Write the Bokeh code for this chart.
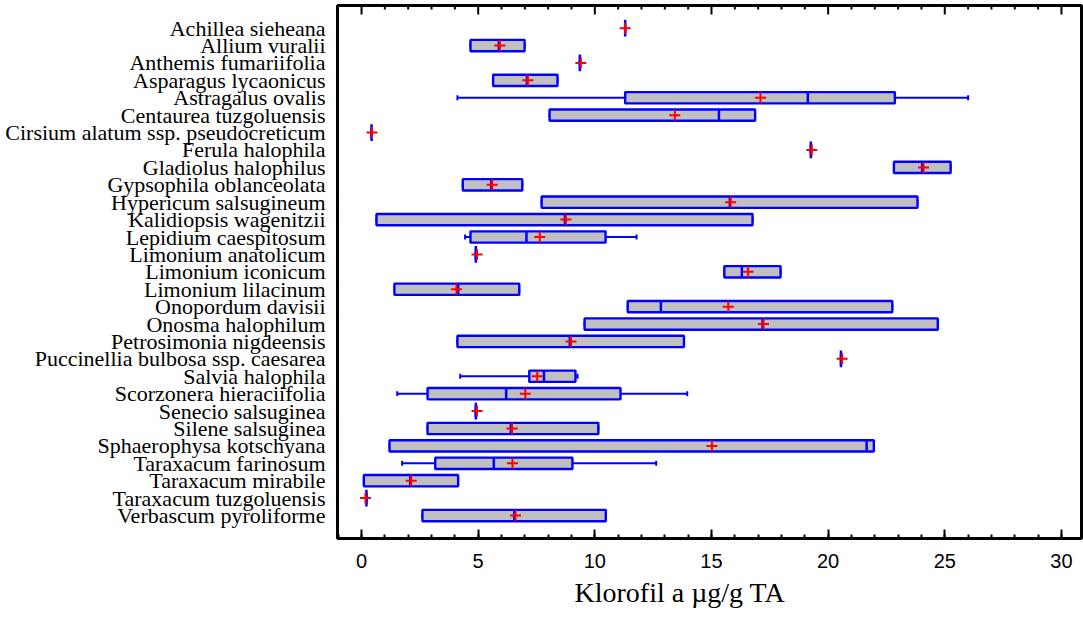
from bokeh.plotting import figure
from bokeh.models import Range1d, FixedTicker, ColumnDataSource, SingleIntervalTicker, Title
from bokeh.embed import file_html
from bokeh.resources import INLINE

species = ["Achillea sieheana", "Allium vuralii", "Anthemis fumariifolia", "Asparagus lycaonicus",
           "Astragalus ovalis", "Centaurea tuzgoluensis", "Cirsium alatum ssp. pseudocreticum",
           "Ferula halophila", "Gladiolus halophilus", "Gypsophila oblanceolata", "Hypericum salsugineum",
           "Kalidiopsis wagenitzii", "Lepidium caespitosum", "Limonium anatolicum", "Limonium iconicum",
           "Limonium lilacinum", "Onopordum davisii", "Onosma halophilum", "Petrosimonia nigdeensis",
           "Puccinellia bulbosa ssp. caesarea", "Salvia halophila", "Scorzonera hieraciifolia",
           "Senecio salsuginea", "Silene salsuginea", "Sphaerophysa kotschyana", "Taraxacum farinosum",
           "Taraxacum mirabile", "Taraxacum tuzgoluensis", "Verbascum pyroliforme"]
whisker_low = [11.30, 4.67, 9.36, 5.64, 4.11, 8.06, 0.43, 19.26, 22.82, 4.34, 7.72, 0.64, 4.44, 4.90, 15.55,
               1.41, 11.41, 9.56, 4.11, 20.55, 4.23, 1.53, 4.90, 2.83, 1.20, 1.74, 0.10, 0.21, 2.61]
q1 = [11.30, 4.67, 9.36, 5.64, 11.30, 8.06, 0.43, 19.26, 22.82, 4.34, 7.72, 0.64, 4.67, 4.90, 15.55,
      1.41, 11.41, 9.56, 4.11, 20.55, 7.19, 2.83, 4.90, 2.83, 1.20, 3.16, 0.10, 0.21, 2.61]
median = [11.30, 5.89, 9.36, 7.09, 19.13, 15.32, 0.43, 19.26, 24.03, 5.56, 15.79, 8.72, 7.07, 4.90, 16.30,
          4.14, 12.83, 17.19, 8.93, 20.55, 7.82, 6.20, 4.90, 6.40, 21.65, 5.67, 2.09, 0.21, 6.55]
q3 = [11.30, 6.99, 9.36, 8.40, 22.86, 16.87, 0.43, 19.26, 25.25, 6.89, 23.83, 16.76, 10.46, 4.90, 17.96,
      6.76, 22.75, 24.70, 13.82, 20.55, 9.17, 11.10, 4.90, 10.15, 21.96, 9.04, 4.14, 0.21, 10.47]
whisker_high = [11.30, 6.99, 9.36, 8.40, 26.00, 16.87, 0.43, 19.26, 25.25, 6.89, 23.83, 16.76, 11.79, 4.90, 17.96,
                6.76, 22.75, 24.70, 13.82, 20.55, 9.26, 13.96, 4.90, 10.15, 21.96, 12.63, 4.14, 0.21, 10.47]
mean = [11.30, 5.93, 9.40, 7.13, 17.10, 13.43, 0.45, 19.30, 24.09, 5.60, 15.82, 8.76, 7.64, 4.95, 16.57,
        4.07, 15.72, 17.23, 8.98, 20.60, 7.53, 7.02, 4.95, 6.45, 15.02, 6.47, 2.13, 0.17, 6.60]
x_major_ticks = [0, 5, 10, 15, 20, 25, 30]
x_minor_ticks = [v for v in range(0, 31) if v % 5 != 0]
x_title = "Klorofil a µg/g TA"

n = len(species)
ypos = [n - i for i in range(n)]
half_box = 0.325
med_half = [0.48 if abs(b - a) < 1e-9 else half_box for a, b in zip(q1, q3)]

src = ColumnDataSource(dict(
    y=ypos, lo=whisker_low, q1=q1, med=median, q3=q3, hi=whisker_high, mean=mean,
    yb=[v - half_box for v in ypos], yt=[v + half_box for v in ypos],
    mb=[v - h for v, h in zip(ypos, med_half)], mt=[v + h for v, h in zip(ypos, med_half)],
    cb=[v - 0.14 for v in ypos], ct=[v + 0.14 for v in ypos],
))

y_lo, y_hi = -0.32, 30.3
frame_h = 533.0
px = (y_hi - y_lo) / frame_h

p = figure(width=1083, height=619, output_backend="svg", toolbar_location=None,
           x_range=Range1d(-1.03, 30.86), y_range=Range1d(y_lo, y_hi),
           min_border_left=337, min_border_right=2, min_border_top=5, min_border_bottom=81)
p.grid.visible = False
p.outline_line_color = "black"
p.outline_line_width = 3
p.background_fill_color = "white"
p.border_fill_color = "white"

blue = "#0000FF"
# top-edge inward ticks
p.segment(x0=x_major_ticks, y0=[y_hi] * len(x_major_ticks), x1=x_major_ticks,
          y1=[y_hi - 9 * px] * len(x_major_ticks), line_color="black", line_width=2)
p.segment(x0=x_minor_ticks, y0=[y_hi] * len(x_minor_ticks), x1=x_minor_ticks,
          y1=[y_hi - 4 * px] * len(x_minor_ticks), line_color="black", line_width=2)
# whiskers
p.segment(x0="lo", y0="y", x1="q1", y1="y", source=src, line_color=blue, line_width=2)
p.segment(x0="q3", y0="y", x1="hi", y1="y", source=src, line_color=blue, line_width=2)
p.segment(x0="lo", y0="cb", x1="lo", y1="ct", source=src, line_color=blue, line_width=2)
p.segment(x0="hi", y0="cb", x1="hi", y1="ct", source=src, line_color=blue, line_width=2)
# boxes
p.quad(left="q1", right="q3", bottom="yb", top="yt", source=src,
       fill_color="#C0C0C0", line_color=blue, line_width=2.4)
# medians
p.segment(x0="med", y0="mb", x1="med", y1="mt", source=src, line_color=blue, line_width=2.5)
# means
p.scatter(x="mean", y="y", source=src, marker="cross", size=11, line_color="red", line_width=2)

ax = p.xaxis[0]
ax.ticker = SingleIntervalTicker(interval=5, num_minor_ticks=5)
ax.axis_line_color = None
ax.major_tick_in = 9
ax.major_tick_out = 0
ax.minor_tick_in = 4
ax.minor_tick_out = 0
ax.major_tick_line_width = 2
ax.minor_tick_line_width = 2
ax.major_tick_line_color = "black"
ax.minor_tick_line_color = "black"
ax.major_label_text_font = "Liberation Sans Narrow, Liberation Sans"
ax.major_label_text_font_size = "20px"
ax.major_label_text_color = "black"
ax.major_label_standoff = 15

ay = p.yaxis[0]
ay.ticker = FixedTicker(ticks=ypos)
ay.major_label_overrides = {y: s for y, s in zip(ypos, species)}
ay.axis_line_color = None
ay.major_tick_in = 0
ay.major_tick_out = 0
ay.minor_tick_in = 0
ay.minor_tick_out = 0
ay.major_label_text_font = "Liberation Serif"
ay.major_label_text_font_size = "22px"
ay.major_label_text_color = "black"
ay.major_label_standoff = 12

p.add_layout(Title(text=x_title, align="left", offset=237, text_font="Liberation Serif",
                   text_font_size="28px", text_font_style="normal", text_color="black",
                   standoff=8), "below")

open("out.html", "w").write(file_html(p, INLINE))
